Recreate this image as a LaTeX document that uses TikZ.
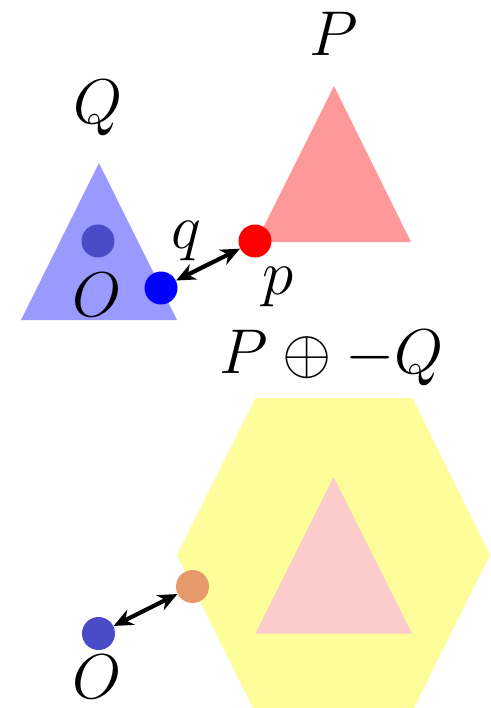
\RequirePackage{fix-cm}
\documentclass[tikz,border=0pt]{standalone}
\usepackage{amsmath,amssymb}
\usetikzlibrary{arrows.meta}

\definecolor{qblue}{RGB}{153,153,255}
\definecolor{pred}{RGB}{255,153,153}
\definecolor{origin}{RGB}{75,75,200}
\definecolor{sumfill}{RGB}{253,253,153}
\definecolor{pinner}{RGB}{252,204,204}
\definecolor{diffdot}{RGB}{230,154,106}

\begin{document}
\begin{tikzpicture}[
    every node/.style={font=\fontsize{36}{40}\selectfont, inner sep=1pt},
    dot/.style={circle, inner sep=0pt, minimum size=0.66cm},
    gap/.style={<->, line width=2.4pt},
    >={Stealth[length=11pt,width=9.5pt,inset=3.5pt]}
  ]
    \path[use as bounding box, clip] (0,0) rectangle (9.82,-14.16);

    % the two bodies
    \fill[qblue] (1.98,-3.26) -- (3.54,-6.40) -- (0.42,-6.40) -- cycle;
    \fill[pred] (6.68,-1.72) -- (8.22,-4.84) -- (5.12,-4.84) -- cycle;
    \node[anchor=base] (qname) at (1.96,-2.46) {$Q$};
    \node[anchor=base] (pname) at (6.68,-1.10) {$P$};

    \node[dot, fill=origin] (o1) at (1.96,-4.82) {};
    \node[dot, fill=blue] (q) at (3.22,-5.76) {};
    \node[dot, fill=red] (p) at (5.10,-4.82) {};
    \draw[gap] (q) -- (p);
    \node[anchor=base] (olabel1) at (1.95,-6.32) {$O$};
    \node[anchor=base] (qlabel) at (3.72,-4.96) {$q$};
    \node[anchor=base] (plabel) at (5.56,-5.88) {$p$};

    % Minkowski difference
    \node[anchor=base] (sumname) at (6.63,-7.46) {$P \oplus -Q$};
    \fill[sumfill] (5.11,-7.96) -- (8.25,-7.96) -- (9.80,-11.10) -- (8.24,-14.24)
      -- (5.10,-14.24) -- (3.54,-11.10) -- cycle;
    \fill[pinner] (6.67,-9.54) -- (8.24,-12.67) -- (5.11,-12.67) -- cycle;

    \node[dot, fill=origin] (o2) at (1.97,-12.67) {};
    \node[dot, fill=diffdot] (d) at (3.85,-11.73) {};
    \draw[gap] (o2) -- (d);
    \node[anchor=base] (olabel2) at (1.95,-13.97) {$O$};
  \end{tikzpicture}
\end{document}
